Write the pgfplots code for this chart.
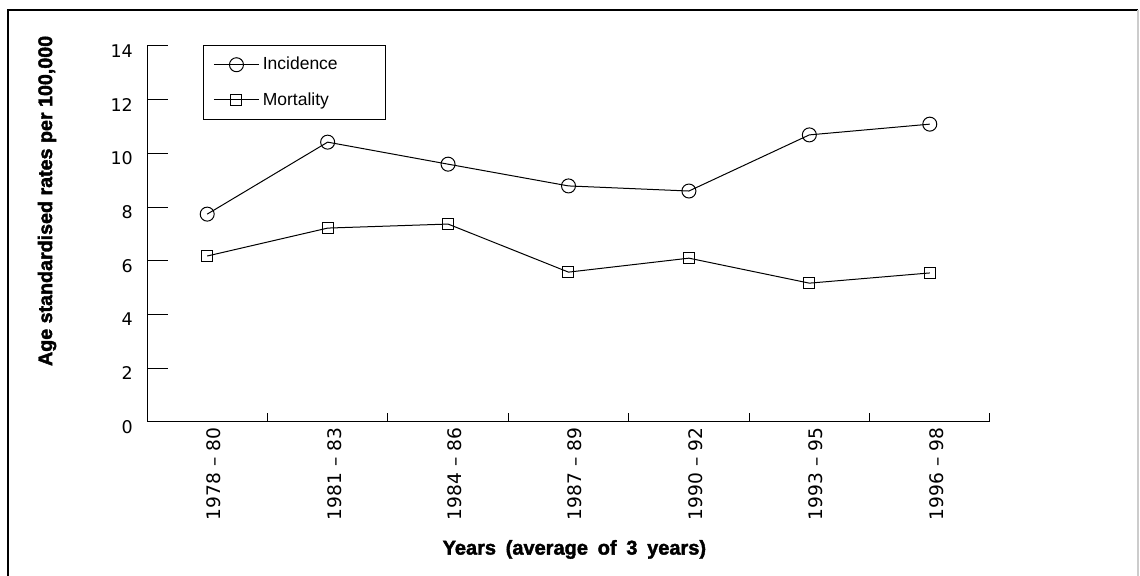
\documentclass[border=0pt]{standalone}
\usepackage{pgfplots}
\pgfplotsset{compat=1.18}
\usepackage{fontspec}
\setmainfont{Liberation Sans}
\newfontfamily\tickfont[Ligatures=TeX]{DejaVu Sans}
\newfontfamily\heavyfont[Ligatures=TeX, BoldFeatures={FakeBold=2}]{Liberation Sans}
\begin{document}
\begin{tikzpicture}[x=0.6pt,y=0.6pt]
\path[use as bounding box] (0,0) rectangle (1140,576);
\draw[line width=1.2pt] (8,0) -- (8,566) -- (1138,566);
\draw[line width=1pt, black!20] (1138,566) -- (1138,0);
\begin{axis}[
  at={(147*0.6pt,154*0.6pt)}, anchor=south west,
  scale only axis,
  width=843*0.6pt, height=376*0.6pt,
  axis x line*=bottom, axis y line*=left,
  axis line style={line width=0.6pt, -},
  xmin=-0.5, xmax=6.5, ymin=0, ymax=14,
  xtick={0,...,6},
  xticklabels={1978 – 80,1981 – 83,1984 – 86,1987 – 89,1990 – 92,1993 – 95,1996 – 98},
  minor xtick={0.5,1.5,...,6.5},
  ytick={0,2,...,14},
  major tick length=12.6pt,
  minor tick length=5.4pt,
  major x tick style={draw=none},
  minor x tick style={draw=black, line width=0.6pt},
  y tick style={line width=0.6pt, black},
  ytick align=inside,
  xtick align=inside,
  xticklabel style={rotate=90, anchor=east, font=\fontsize{11.2}{13}\selectfont\tickfont, yshift=-4pt},
  yticklabel style={font=\fontsize{10.5}{12}\selectfont\tickfont, anchor=east, xshift=-5pt, yshift=-3pt},
  /pgf/number format/assume math mode=true,
  xlabel={Years\hspace{2.5pt} (average\hspace{2.5pt} of\hspace{2.5pt} 3\hspace{2.5pt} years)},
  ylabel={Age standardised rates per 100,000},
  xlabel style={font=\fontsize{12}{14}\selectfont\heavyfont\bfseries, at={(axis description cs:0.507,-0.339)}, anchor=center},
  ylabel style={font=\fontsize{11.8}{14}\selectfont\heavyfont\bfseries, at={(axis description cs:-0.1186,0.588)}, anchor=center},
  legend style={at={(axis description cs:0.0664,1.0027)}, anchor=north west,
    draw=black, line width=0.6pt, font=\fontsize{10.5}{12}\selectfont,
    inner xsep=6pt, inner ysep=5pt, row sep=8pt},
  legend cell align=left,
  legend image code/.code={\draw[#1, mark repeat=2, mark phase=2] plot coordinates {(0pt,0pt) (13.5pt,0pt) (27pt,0pt)};},
]
\addplot[black, line width=0.6pt, mark=o, mark size=4.2pt, mark options={fill=white, solid}] coordinates {
(0,7.74) (1,10.42) (2,9.6) (3,8.79) (4,8.6) (5,10.69) (6,11.09)};
\addlegendentry{Incidence\hspace*{20.5pt}}
\addplot[black, line width=0.6pt, mark=square, mark size=3.3pt, mark options={fill=white, solid}] coordinates {
(0,6.18) (1,7.22) (2,7.37) (3,5.58) (4,6.1) (5,5.17) (6,5.55)};
\addlegendentry{Mortality}
\end{axis}
\end{tikzpicture}
\end{document}
